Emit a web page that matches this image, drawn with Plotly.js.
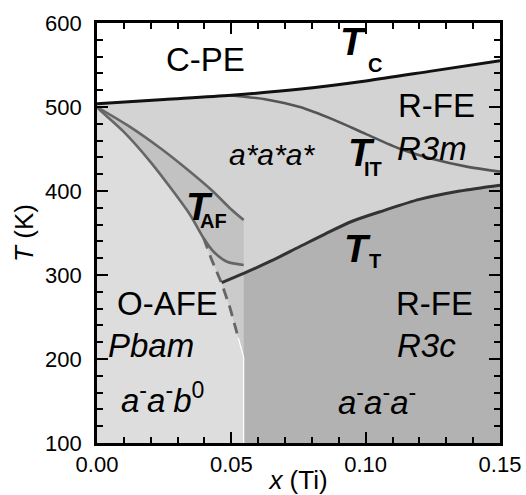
<!DOCTYPE html>
<html>
<head>
<meta charset="utf-8">
<script src="https://cdn.plot.ly/plotly-3.0.1.min.js"></script>
<style>html,body{margin:0;padding:0;background:#fff;}#chart{width:526px;height:495px;}</style>
</head>
<body>
<div id="chart"></div>
<script>
// ---- boundary data (x = Ti fraction, T in K) ----
const tcX = [0, 0.025, 0.05, 0.075, 0.1, 0.125, 0.15];
const tcT = [504, 509, 514, 521, 531, 543, 555];

const titX = [0.049, 0.063, 0.0755, 0.088, 0.1, 0.113, 0.125, 0.1376, 0.15];
const titT = [514, 509, 500, 485, 468, 450, 438, 429, 423];

const afUpX = [0, 0.012, 0.024, 0.035, 0.043, 0.05, 0.0546];
const afUpT = [500, 477, 450, 422, 400, 378, 365.5];

const afLoX = [0, 0.0012, 0.0099, 0.0198, 0.0285, 0.0347, 0.0397, 0.0434, 0.0484, 0.0546];
const afLoT = [500, 496, 470.6, 435, 399, 371.4, 343.7, 327.7, 315.8, 312];

const dashX = [0.0397, 0.0427, 0.0464, 0.0495, 0.0526];
const dashT = [343.7, 318, 290, 261, 225];

const edgeX = [0.0526, 0.0546, 0.0546];
const edgeT = [225, 202, 100];

const ttX = [0.0464, 0.0546, 0.065, 0.075, 0.085, 0.095, 0.107, 0.12, 0.135, 0.15];
const ttT = [291, 302, 317, 333, 349, 364, 377, 390, 400, 407];

const xTicks = [0, 0.05, 0.1, 0.15];
const xTickLabels = ['0.00', '0.05', '0.10', '0.15'];
const yTicks = [100, 200, 300, 400, 500, 600];

// ---- region polygons built from the boundaries ----
const loIdxDash = afLoX.indexOf(0.0397);
const rev = a => a.slice().reverse();

const regBelowTc = {x: tcX.concat([0.15, 0]), y: tcT.concat([100, 100])};
const regOAFE = {
  x: afLoX.slice(0, loIdxDash + 1).concat(dashX.slice(1), edgeX.slice(1), [0]),
  y: afLoT.slice(0, loIdxDash + 1).concat(dashT.slice(1), edgeT.slice(1), [100])
};
const regMid = {
  x: afLoX.slice(loIdxDash).concat([edgeX[1]], rev(dashX)),
  y: afLoT.slice(loIdxDash).concat([edgeT[1]], rev(dashT))
};
const regAF = {x: afUpX.concat(rev(afLoX)), y: afUpT.concat(rev(afLoT))};
const regR3c = {x: ttX.slice(1).concat([0.15, 0.0546]), y: ttT.slice(1).concat([100, 100])};

function poly(r, color) {
  return {x: r.x, y: r.y, type: 'scatter', mode: 'lines', fill: 'toself',
          fillcolor: color, line: {width: 0, color: color}, hoverinfo: 'skip', showlegend: false};
}
function line(x, y, color, width, dash, shape) {
  return {x: x, y: y, type: 'scatter', mode: 'lines',
          line: {color: color, width: width, dash: dash || 'solid', shape: shape || 'spline', smoothing: 0.8},
          hoverinfo: 'skip', showlegend: false};
}

const traces = [
  poly(regBelowTc, '#d3d3d3'),
  poly(regOAFE, '#dddddd'),
  poly(regMid, '#cbcbcb'),
  poly(regAF, '#c2c2c2'),
  poly(regR3c, '#b2b2b2'),
  line(edgeX, edgeT, '#ffffff', 1.2, 'solid', 'linear'),
  line(dashX, dashT, '#666666', 2.8, '11px,7px', 'linear'),
  line(afUpX, afUpT, '#666666', 2.6),
  line(afLoX, afLoT, '#666666', 2.6),
  line(titX, titT, '#555555', 2.6),
  line(ttX, ttT, '#333333', 3),
  line(tcX, tcT, '#111111', 3)
];

const F = 'Arial, "Liberation Sans", sans-serif';
function ann(x, y, text, size, extra) {
  return Object.assign({x: x, y: y, xref: 'x', yref: 'y', text: text, showarrow: false,
    font: {family: F, size: size, color: '#000'}, xanchor: 'center', yanchor: 'middle'}, extra || {});
}
const annotations = [
  ann(0.0402, 556, 'C-PE', 33),
  ann(0.0953, 578, '<b><i>T</i></b>', 39),
  ann(0.1035, 550, '<b>C</b>', 20),
  ann(0.1265, 502, 'R-FE', 33),
  ann(0.1247, 451, '<i>R3m</i>', 33),
  ann(0.0651, 443, '<i>a*a*a*</i>', 30),
  ann(0.0986, 446, '<b><i>T</i></b>', 39),
  ann(0.1027, 426, '<b>IT</b>', 20),
  ann(0.0380, 382, '<b><i>T</i></b>', 39),
  ann(0.0432, 364, '<b>AF</b>', 20),
  ann(0.0968, 332, '<b><i>T</i></b>', 39),
  ann(0.1035, 317, '<b>T</b>', 20),
  ann(0.0262, 265.5, 'O-AFE', 33),
  ann(0.0201, 215.5, '<i>Pbam</i>', 33),
  ann(0.0242, 153, '<i>a</i><sup>-</sup><i>a</i><sup>-</sup><i>b</i><sup>0</sup>', 33),
  ann(0.1258, 265.5, 'R-FE', 33),
  ann(0.1228, 215.5, '<i>R3c</i>', 33),
  ann(0.1042, 151, '<i>a</i><sup>-</sup><i>a</i><sup>-</sup><i>a</i><sup>-</sup>', 33)
];

const axisCommon = {
  showline: true, linecolor: '#000', linewidth: 2.8, mirror: 'ticks',
  ticks: 'inside', ticklen: 11, tickwidth: 2.2, tickcolor: '#000',
  showgrid: false, zeroline: false,
  tickfont: {family: F, size: 22, color: '#000'}
};

const layout = {
  width: 526, height: 495,
  margin: {l: 97, r: 26, t: 23, b: 52},
  paper_bgcolor: '#ffffff', plot_bgcolor: '#ffffff',
  showlegend: false,
  xaxis: Object.assign({}, axisCommon, {
    range: [0, 0.15], tickvals: xTicks, ticktext: xTickLabels,
    minor: {ticks: 'inside', dtick: 0.01, ticklen: 6, tickwidth: 2, tickcolor: '#000', showgrid: false},
    title: {text: '<i>x</i> (Ti)', font: {family: F, size: 26, color: '#000'}, standoff: 0}
  }),
  yaxis: Object.assign({}, axisCommon, {
    range: [100, 600], tickvals: yTicks, ticklabelstandoff: 8,
    minor: {ticks: 'inside', dtick: 20, ticklen: 6, tickwidth: 2, tickcolor: '#000', showgrid: false},
    title: {text: '<i>T</i> (K)', font: {family: F, size: 26, color: '#000'}, standoff: 4}
  }),
  annotations: annotations
};

Plotly.newPlot('chart', traces, layout, {displayModeBar: false, staticPlot: true});
</script>
</body>
</html>
